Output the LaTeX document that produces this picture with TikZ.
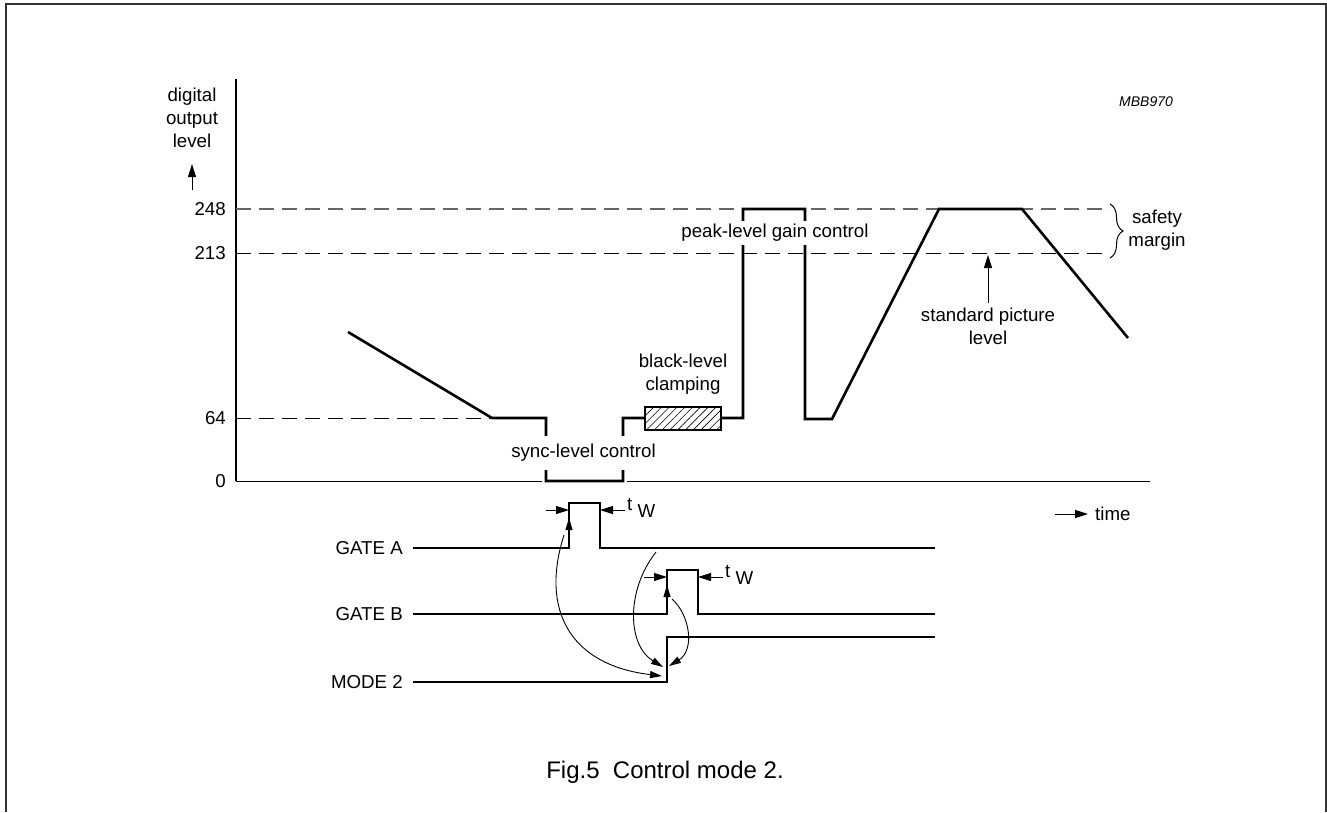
\documentclass[tikz,border=0pt]{standalone}
\usepackage{fontspec}
\setmainfont{Liberation Sans}
\usetikzlibrary{arrows.meta, positioning, calc, patterns.meta, decorations.pathreplacing}

\begin{document}
\begin{tikzpicture}[
    x=1pt, y=-1pt,
    txt/.style={font=\fontsize{18.7}{23}\selectfont, inner sep=0pt},
    signal/.style={line width=2.6pt},
    level/.style={line width=1pt, dash pattern=on 15pt off 8pt},
    dim/.style={line width=1pt, -{Triangle[length=13pt, width=8pt]}},
    cue/.style={line width=0.9pt, -{Triangle[length=12pt, width=7pt]}}
]
\useasboundingbox (0,0) rectangle (1327,812);
\draw[line width=1.6pt, black!80] (6,812) -- (6,4) -- (1326,4) -- (1326,812);

% axes and levels
\draw[line width=1.4pt] (236,79) -- (236,481);
\draw[line width=1pt] (236,481) -- (542,481);
\draw[line width=1pt] (627,481) -- (1150,481);
\draw[level, black!60, line width=1.4pt] (236,209) -- (1110,209);
\draw[level] (236,253) -- (1110,253);
\draw[level] (236,418) -- (492,418);

\node[txt, anchor=east] (l248) at (226,209) {248};
\node[txt, anchor=east] (l213) at (226,253) {213};
\node[txt, anchor=east] (l64) at (226,418) {64};
\node[txt, anchor=east] (l0) at (226,481) {0};

\node[txt, align=center] (ylab) at (192,118) {digital\\output\\level};
\draw[dim] ($(ylab.south)+(0,42)$) -- ($(ylab.south)+(0,16)$);

\node[font=\fontsize{14}{14}\selectfont\itshape] (code) at (1146,102) {MBB970};

% video signal
\draw[signal] (348,332) -- (492,418) -- (546,418) -- (546,481) -- (623,481) -- (623,418) -- (645,418);
\draw[signal] (721,418) -- (743,418) -- (743,209) -- (805,209) -- (805,419) -- (832,419)
    -- (939,209) -- (1022,209) -- (1128,338);
\node[draw, line width=2.4pt, minimum width=76pt, minimum height=23pt, inner sep=0pt,
    pattern={Lines[angle=45, distance=5.5pt, line width=0.6pt]}] (clamp) at (683,418.5) {};

\node[txt, fill=white, inner xsep=4pt, inner ysep=8pt] (sync) at (583.5,453) {sync-level control};
\node[txt, fill=white, inner xsep=3pt, inner ysep=3pt] (peak) at (775,233) {peak-level gain control};
\node[txt, align=center] (clampl) at (683,374) {black-level\\clamping};
\node[txt, align=center] (std) at (988,326) {standard picture\\level};
\coordinate (stdtip) at (988,255);
\draw[dim] (std.north) ++(0,-4) -- (stdtip);

\draw[decorate, decoration={brace, amplitude=13pt}, line width=1pt] (1110,204) -- (1110,258);
\node[txt, align=center] (safety) at (1157,230) {safety\\margin};

\node[txt, anchor=west] (time) at (1095,514) {time};
\draw[dim] ($(time.west)+(-40,0)$) -- ($(time.west)+(-7,0)$);

% gate and mode traces
\node[txt, anchor=east] (gateA) at (403,548) {GATE A};
\node[txt, anchor=east] (gateB) at (403,614) {GATE B};
\node[txt, anchor=east] (mode) at (403,682) {MODE 2};

\draw[signal] (413,548) -- (569,548) -- (569,503) -- (600,503) -- (600,548) -- (935,548);
\draw[signal] (413,614) -- (667,614) -- (667,570) -- (698,570) -- (698,614) -- (935,614);
\draw[signal] (413,682) -- (667,682) -- (667,637) -- (935,637);

\node[txt, anchor=base west] (twA) at (627,517) {\raisebox{7pt}{t} W};
\node[txt, anchor=base west] (twB) at (725,584) {\raisebox{7pt}{t} W};
\draw[dim] (546,510) -- (569,510);
\draw[dim] (625,510) -- (600,510);
\draw[dim] (644,577) -- (667,577);
\draw[dim] (723,577) -- (698,577);

% edge cues
\coordinate (aRise) at (569,518);
\coordinate (bRise) at (667,585);
\coordinate (aFrom) at (564,535);
\coordinate (aFall) at (656,552);
\coordinate (bFrom) at (672,599);
\coordinate (mA) at (662,676);
\coordinate (mB) at (663,667);
\coordinate (mC) at (669,666);
\draw[cue] ($(aRise)+(0,14)$) -- (aRise);
\draw[cue] ($(bRise)+(0,14)$) -- (bRise);
\draw[cue] (aFrom) .. controls (540,610) and (570,665) .. (mA);
\draw[cue] (aFall) .. controls (626,590) and (627,645) .. (mB);
\draw[cue] (bFrom) .. controls (690,615) and (695,650) .. (mC);

\node[font=\fontsize{24}{24}\selectfont, inner sep=0pt] (caption) at (665,772) {Fig.5\ \ Control mode 2.};
\end{tikzpicture}
\end{document}
